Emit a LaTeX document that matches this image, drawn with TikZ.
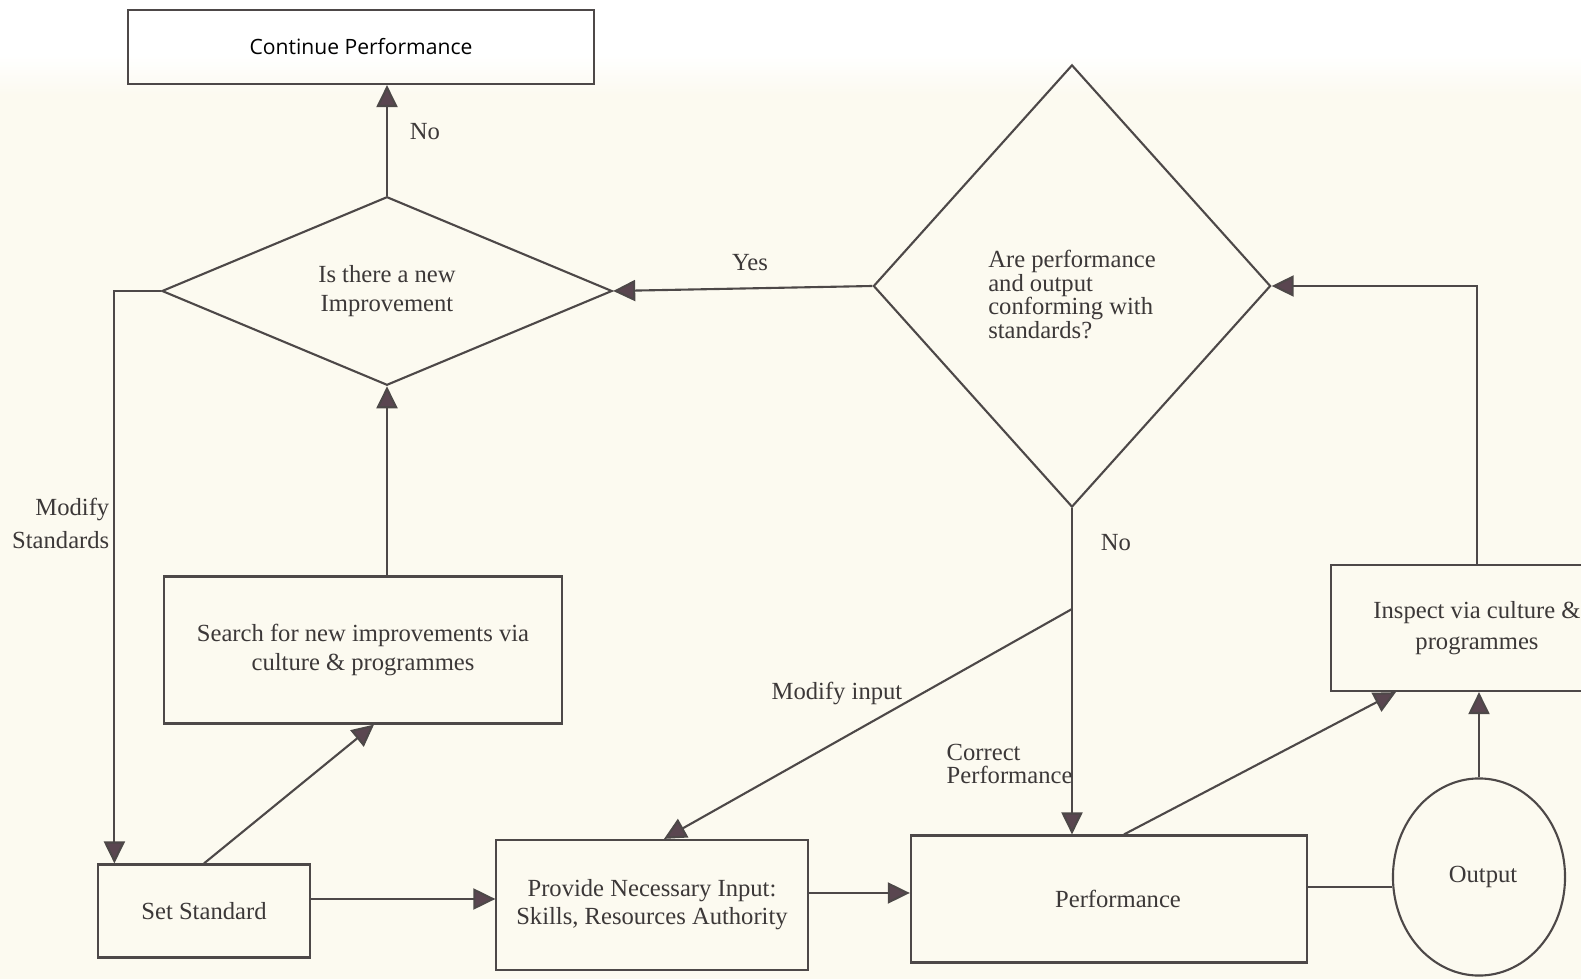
\documentclass[tikz,border=0pt]{standalone}
\usepackage{fontspec}
\setmainfont{Liberation Serif}
\newfontfamily\boxsans{Open Sans}
\usepackage{xcolor}
\usepackage{tikz}
\usetikzlibrary{shapes.geometric, arrows.meta, positioning}
\definecolor{papercolor}{RGB}{252,250,240}
\definecolor{linecolor}{RGB}{77,72,72}
\definecolor{tipcolor}{RGB}{90,70,80}
\definecolor{textcolor}{RGB}{60,56,56}

\tikzset{
    block/.style={draw=linecolor, line width=0.6pt, rectangle, inner sep=0pt, align=center, text=textcolor},
    decision/.style={draw=linecolor, line width=0.6pt, diamond, inner sep=0pt, text=textcolor},
    link/.style={draw=linecolor, line width=0.6pt},
    flow/.style={link, -{Triangle[length=0.22cm, width=0.21cm, fill=tipcolor]}},
    lbl/.style={text=textcolor, inner sep=0pt}
}

\begin{document}
\begin{tikzpicture}[x=0.01cm, y=-0.01cm, font=\fontsize{7}{8.2}\selectfont]
    \useasboundingbox (0,0) rectangle (1581,979);
    \clip (0,0) rectangle (1581,979);
    % Paper
    \fill[papercolor] (0,0) rectangle (1581,979);
    \fill[white] (0,0) rectangle (1581,55);
    \shade[top color=white, bottom color=papercolor] (0,55) rectangle (1581,95);

    % Top row
    \node[block, minimum width=4.66cm, minimum height=0.74cm, font=\boxsans\fontsize{6}{7}\selectfont, text=black] (cont) at (361,47) {Continue Performance};

    % Decisions
    \node[decision, minimum width=4.5cm, minimum height=1.75cm, align=center] (improve) at (387,291) {Is there a new\\Improvement};
    \node[decision, minimum width=3.97cm, minimum height=4.42cm, align=left, font=\fontsize{7}{6.7}\selectfont] (conform) at (1072,286) {\\[3pt]Are performance\\and output\\conforming with\\standards?};

    % Boxes
    \node[block, minimum width=3.98cm, minimum height=1.47cm, font=\fontsize{7}{8}\selectfont] (search) at (363,650) {Search for new improvements via\\culture \& programmes};
    \node[block, minimum width=2.11cm, minimum height=0.93cm] (setstd) at (204,911) {Set Standard};
    \node[block, minimum width=3.11cm, minimum height=1.30cm, font=\fontsize{7}{8}\selectfont] (input) at (652,905) {Provide Necessary Input:\\Skills, Resources Authority};
    \node[block, minimum width=3.96cm, minimum height=1.27cm] (perf) at (1109,899) {\hspace{0.18cm}Performance};
    \node[block, minimum width=2.92cm, minimum height=1.26cm, font=\fontsize{7}{8.9}\selectfont] (inspect) at (1477,628) {Inspect via culture \&\\programmes};
    \node[draw=linecolor, line width=0.6pt, ellipse, inner sep=0pt, minimum width=1.72cm, minimum height=1.97cm, text=textcolor] (output) at (1479,877) {\hspace{0.08cm}Output};

    % Connectors
    \draw[flow] (improve.north) -- (improve.north |- cont.south);
    \draw[flow] (conform.west) -- (improve.east);
    \draw[flow] (improve.west) -| ([xshift=0.17cm]setstd.north west);
    \draw[flow] (improve.south |- search.north) -- (improve.south);
    \draw[flow] (setstd.north) -- ([xshift=0.11cm]search.south);
    \draw[flow] ([yshift=0.12cm]setstd.east) -- ([yshift=0.12cm]setstd.east -| input.west);
    \draw[flow] ([yshift=0.12cm]input.east) -- ([yshift=0.12cm]input.east -| perf.west);
    \draw[flow] (conform.south) -- (conform.south |- perf.north);
    \coordinate (branch) at (1072,609);
    \draw[flow] (branch) -- ([xshift=0.12cm]input.north);
    \draw[link] ([yshift=0.12cm]perf.east) -- ([yshift=0.12cm]perf.east -| output.west);
    \draw[flow] (output.north) -- (output.north |- inspect.south);
    \draw[flow] ([xshift=0.15cm]perf.north) -- ([xshift=-0.81cm]inspect.south);
    \draw[flow] (inspect.north) |- (conform.east);

    % Labels
    \node[lbl] (no1) at (425,132) {No};
    \node[lbl] (yes) at (750,263) {Yes};
    \node[lbl, anchor=east, align=right, font=\fontsize{7}{9.4}\selectfont] (modstd) at (110,523) {Modify\\Standards};
    \node[lbl] (no2) at (1116,543) {No};
    \node[lbl] (modin) at (837,693) {Modify input};
    \node[lbl, anchor=west, align=left, font=\fontsize{7}{6.6}\selectfont] (corr) at (946,764) {Correct\\Performance};
\end{tikzpicture}
\end{document}
